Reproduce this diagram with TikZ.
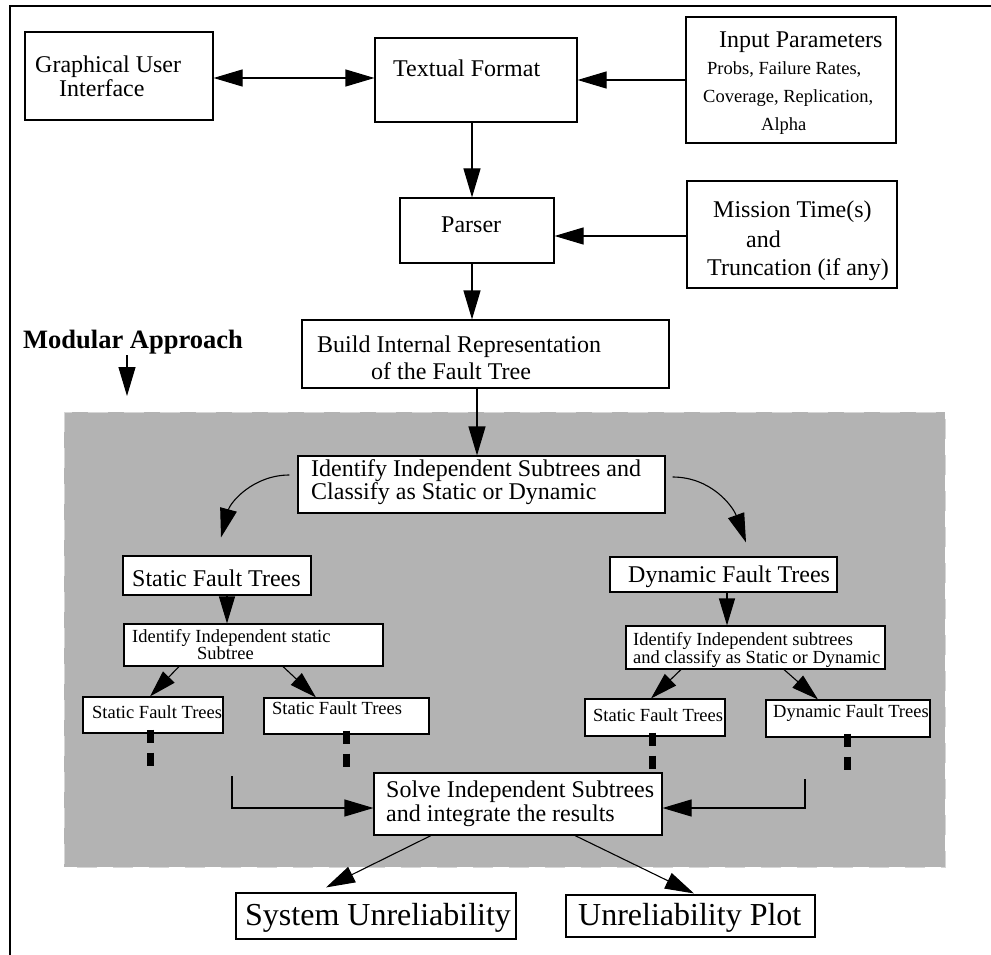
\documentclass[tikz,border=0pt]{standalone}
\usepackage{fontspec}
\setmainfont{Liberation Serif}
\usetikzlibrary{arrows.meta,calc}
\definecolor{regiongray}{HTML}{B3B3B3}
\definecolor{regionedge}{HTML}{D6D6D6}
\tikzset{
  tbox/.style={draw=black, line width=1.1pt, fill=white, inner sep=0pt, rectangle},
  txt/.style={inner sep=0pt, anchor=base west, font=\fontsize{24}{24}\selectfont},
  stxt/.style={inner sep=0pt, anchor=base west, font=\fontsize{18.5}{18.5}\selectfont},
  ltxt/.style={inner sep=0pt, anchor=base west, font=\fontsize{32}{32}\selectfont},
  arr/.style={line width=1.1pt, -{Triangle[length=29pt,width=17pt]}},
  darr/.style={line width=1.1pt, {Triangle[length=29pt,width=17pt]}-{Triangle[length=29pt,width=17pt]}},
  sarr/.style={line width=1.1pt, -{Triangle[length=27pt,width=16pt]}},
  dots/.style={line width=7pt, dash pattern=on 13pt off 10pt},
}
\begin{document}
\begin{tikzpicture}[x=1pt,y=-1pt]
\useasboundingbox (0,0) rectangle (991,955);
% outer frame (top and left edges)
\draw[line width=1.2pt] (10,955) -- (10,6) -- (991,6);
% shaded region
\fill[regiongray] (64,412) rectangle (945,867);
\draw[regionedge, line width=1pt, dash pattern=on 20pt off 16pt] (64,412) rectangle (945,867);

% boxes
\node[tbox, minimum width=188pt, minimum height=88pt] (gui) at (119,76) {};
\node[tbox, minimum width=202pt, minimum height=84pt] (tf) at (476,80) {};
\node[tbox, minimum width=210pt, minimum height=126pt] (ip) at (791,80) {};
\node[tbox, minimum width=154pt, minimum height=65pt] (parser) at (477,230.5) {};
\node[tbox, minimum width=210pt, minimum height=107pt] (mt) at (792,234.5) {};
\node[tbox, minimum width=367pt, minimum height=68pt] (build) at (485.5,354) {};
\node[tbox, minimum width=367pt, minimum height=57pt] (ident) at (481.5,484.5) {};
\node[tbox, minimum width=188pt, minimum height=39pt] (sft) at (217,575.5) {};
\node[tbox, minimum width=227pt, minimum height=35pt] (dft) at (723.5,574.5) {};
\node[tbox, minimum width=259pt, minimum height=42pt] (iss) at (253.5,645) {};
\node[tbox, minimum width=259pt, minimum height=43pt] (ids) at (755.5,647.5) {};
\node[tbox, minimum width=140pt, minimum height=36pt] (s1) at (153,715) {};
\node[tbox, minimum width=165pt, minimum height=36pt] (s2) at (346.5,716) {};
\node[tbox, minimum width=140pt, minimum height=37pt] (s3) at (655,717.5) {};
\node[tbox, minimum width=164pt, minimum height=37pt] (d1) at (848,718.5) {};
\node[tbox, minimum width=288pt, minimum height=62pt] (solve) at (518,804) {};
\node[tbox, minimum width=280pt, minimum height=46pt] (sysu) at (376,916) {};
\node[tbox, minimum width=249pt, minimum height=42pt] (plot) at (690.5,916) {};

% texts
\node[txt] (t1a) at (35,73) {Graphical User};
\node[txt] (t1b) at (59,97) {Interface};
\node[txt] (t2) at (393,77) {Textual Format};
\node[txt] (t3a) at (719,48) {Input Parameters};
\node[stxt] (t3b) at (707,75) {Probs, Failure Rates,};
\node[stxt] (t3c) at (703,103) {Coverage, Replication,};
\node[stxt] (t3d) at (761,131) {Alpha};
\node[txt] (t4) at (441,233) {Parser};
\node[txt] (t5a) at (713,218) {Mission Time(s)};
\node[txt] (t5b) at (746,247) {and};
\node[txt] (t5c) at (707,275) {Truncation (if any)};
\node[txt] (t6a) at (317,352) {Build Internal Representation};
\node[txt] (t6b) at (371,379) {of the Fault Tree};
\node[inner sep=0pt, anchor=base west, font=\fontsize{26.5}{26.5}\selectfont\bfseries] (mod) at (23,348) {Modular Approach};
\node[txt] (t7a) at (311,476) {Identify Independent Subtrees and};
\node[txt] (t7b) at (311,499) {Classify as Static or Dynamic};
\node[txt] (t8) at (132,586) {Static Fault Trees};
\node[txt] (t9) at (628,582) {Dynamic Fault Trees};
\node[stxt] (t10a) at (132,642) {Identify Independent static};
\node[stxt] (t10b) at (197,659) {Subtree};
\node[stxt] (t11a) at (633,645) {Identify Independent subtrees};
\node[stxt] (t11b) at (633,663) {and classify as Static or Dynamic};
\node[stxt] (t12) at (92,718) {Static Fault Trees};
\node[stxt] (t13) at (272,714) {Static Fault Trees};
\node[stxt] (t14) at (593,721) {Static Fault Trees};
\node[stxt] (t15) at (773,717) {Dynamic Fault Trees};
\node[txt] (t16a) at (386,797) {Solve Independent Subtrees};
\node[txt] (t16b) at (386,821) {and integrate the results};
\node[ltxt] (t17) at (245,925) {System Unreliability};
\node[ltxt] (t18) at (578,925) {Unreliability Plot};

% connectors
\draw[darr] ([yshift=-2pt]gui.east) -- ([yshift=-2pt]gui.east -| tf.west);
\draw[arr] (ip.west) -- (ip.west -| tf.east);
\draw[arr] ([xshift=-4pt]tf.south) -- ([xshift=-4pt]tf.south |- parser.north);
\draw[arr] ([yshift=-1.5pt]mt.west) -- ([yshift=-1.5pt]mt.west -| parser.east);
\draw[arr] ([xshift=-5pt]parser.south) -- ([xshift=-5pt]parser.south |- build.north);
\draw[arr] ([xshift=-8.5pt]build.south) -- ([xshift=-8.5pt]build.south |- ident.north);
\coordinate (ma1) at (127,355);
\coordinate (ma2) at (127,396);
\draw[arr] (ma1) -- (ma2);
\draw[arr] ([xshift=-8pt,yshift=9.5pt]ident.west) to[out=180,in=75] ([xshift=4pt,yshift=18pt]sft.north);
\draw[arr] ([xshift=7pt,yshift=7.5pt]ident.east) to[out=0,in=110] ([xshift=22.5pt,yshift=14pt]dft.north);
\draw[sarr] ([xshift=10pt]sft.south) -- ([xshift=10pt]sft.south |- iss.north);
\draw[sarr] ([xshift=3.5pt]dft.south) -- ([xshift=3.5pt]dft.south |- ids.north);
\draw[sarr] ([xshift=-74.5pt]iss.south) -- ([xshift=-3pt]s1.north);
\draw[sarr] ([xshift=29.5pt]iss.south) -- ([xshift=-30.5pt]s2.north);
\draw[sarr] ([xshift=-74.5pt]ids.south) -- ([xshift=-4pt]s3.north);
\draw[sarr] ([xshift=28.5pt]ids.south) -- ([xshift=-30pt]d1.north);
\draw[dots] ([xshift=-3pt,yshift=4pt]s1.south) -- ++(0,37);
\draw[dots] ([yshift=4pt]s2.south) -- ++(0,37);
\draw[dots] ([xshift=-3pt,yshift=4pt]s3.south) -- ++(0,36);
\draw[dots] ([xshift=-1pt,yshift=4pt]d1.south) -- ++(0,37);
\coordinate (lc) at (232,776);
\coordinate (rc) at (805,779);
\draw[arr] (lc) |- ([yshift=-4pt]solve.west);
\draw[line width=1.1pt] (rc) -- ++(0,30);
\draw[arr] (rc) |- ([yshift=-4pt]solve.east);
\draw[arr] ([xshift=-87pt]solve.south) -- ([xshift=-50pt,yshift=5pt]sysu.north);
\draw[arr] ([xshift=57pt]solve.south) -- ([xshift=3.5pt,yshift=1pt]plot.north);
\end{tikzpicture}
\end{document}
